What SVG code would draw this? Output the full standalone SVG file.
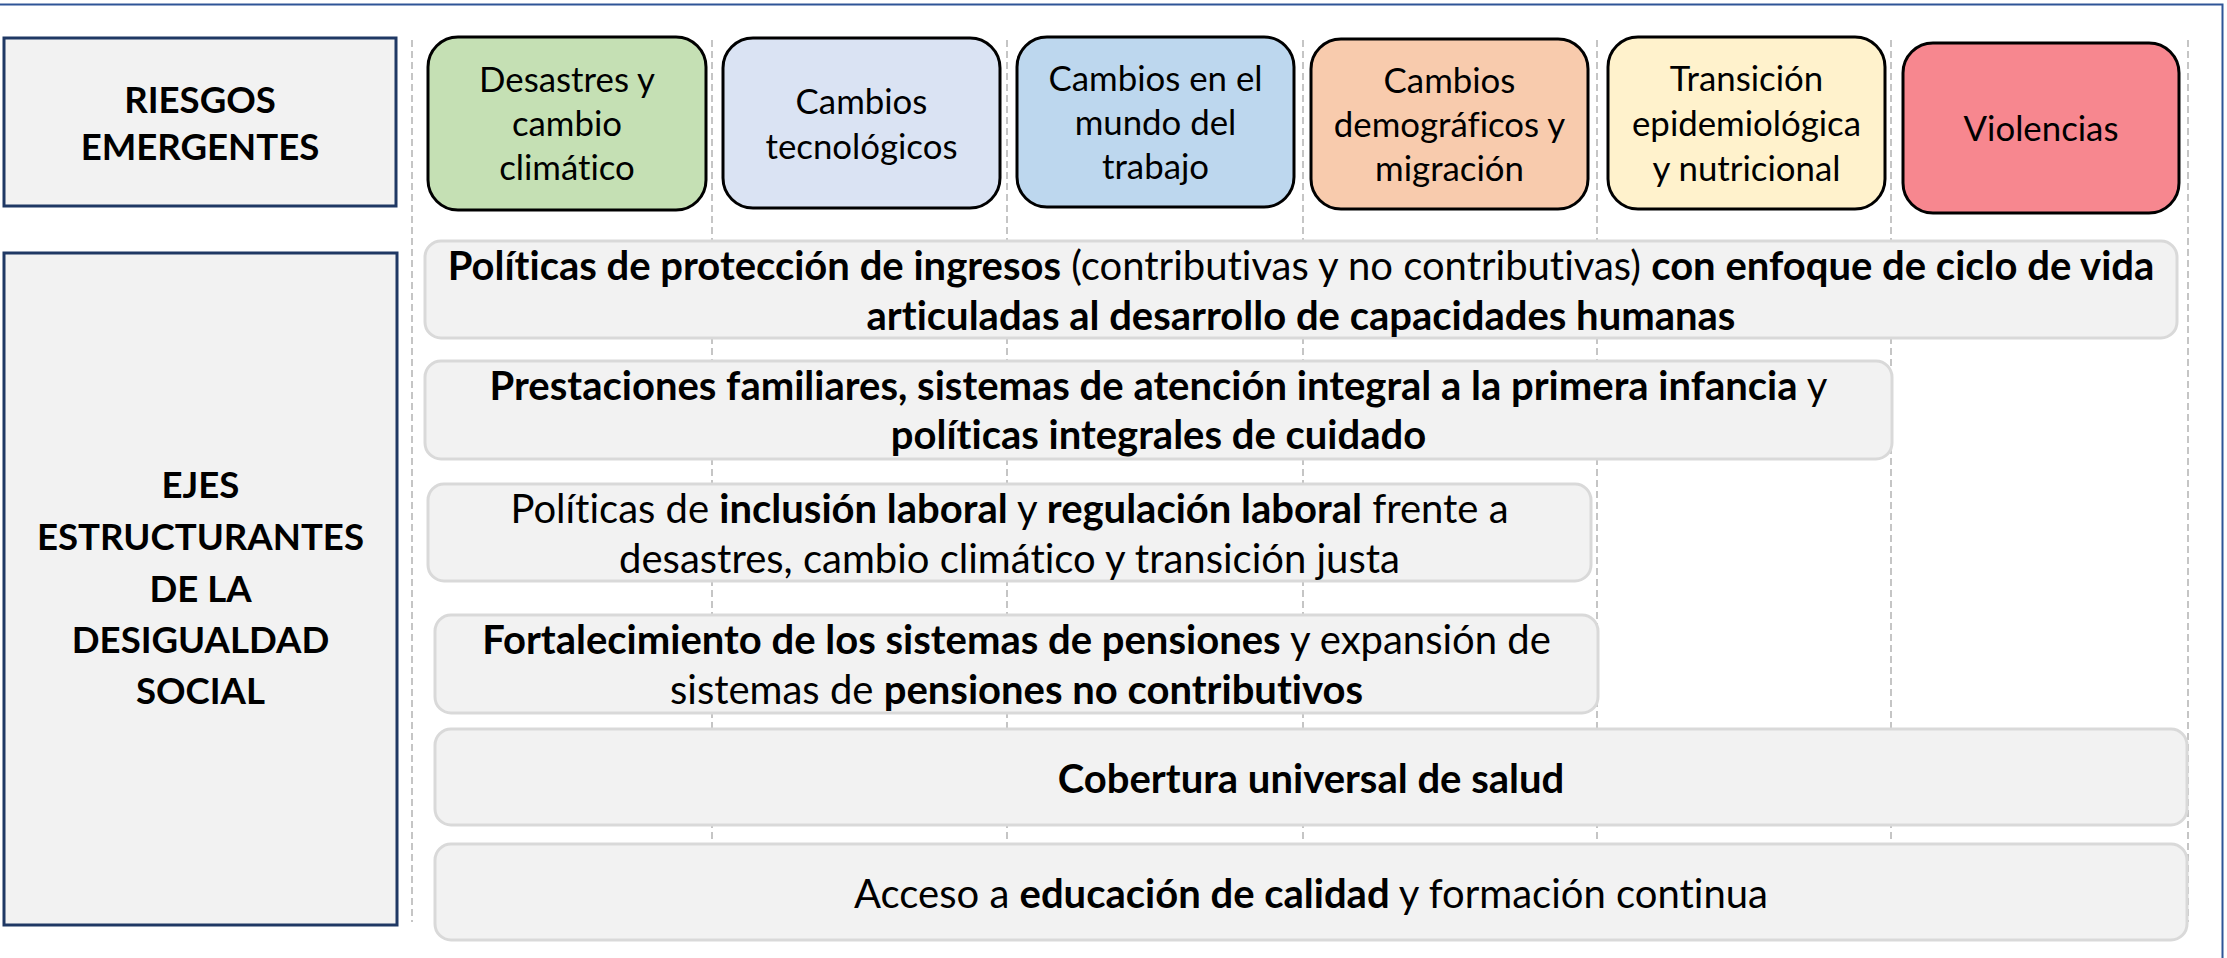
<svg xmlns="http://www.w3.org/2000/svg" width="2227" height="958" viewBox="0 0 2227 958">
<style>
.t{font-family:Lato,"Open Sans","Liberation Sans",sans-serif;fill:#000;text-anchor:middle;font-variant-ligatures:none;font-feature-settings:"liga" 0,"clig" 0,"dlig" 0}
.b{font-weight:bold}
.rk{font-size:34.8px}
.br{font-size:40px}
.hd{font-size:36.6px;font-weight:bold}
.risk{stroke:#000;stroke-width:3}
.bar{fill:#f2f2f2;stroke:#d9d9d9;stroke-width:3}
.hdr{fill:#f2f2f2;stroke:#1f3864;stroke-width:3}
.grid{stroke:#b3b3b3;stroke-width:1.5;stroke-dasharray:7 4;fill:none}
</style>
<rect width="2227" height="958" fill="#fff"/>
<path d="M0 4.5 H2222.5 V958" fill="none" stroke="#2f5597" stroke-width="2"/>
<g id="connectors">
<line class="grid" x1="412" y1="40" x2="412" y2="922"/>
<line class="grid" x1="712" y1="40" x2="712" y2="922"/>
<line class="grid" x1="1007" y1="40" x2="1007" y2="922"/>
<line class="grid" x1="1303" y1="40" x2="1303" y2="922"/>
<line class="grid" x1="1597" y1="40" x2="1597" y2="922"/>
<line class="grid" x1="1891" y1="40" x2="1891" y2="922"/>
<line class="grid" x1="2188" y1="40" x2="2188" y2="922"/>
</g>
<g id="riesgos-emergentes">
<rect class="hdr" x="4" y="38" width="392" height="168"/>
<text class="t hd" x="200" y="113">RIESGOS</text>
<text class="t hd" x="200" y="160">EMERGENTES</text>
</g>
<g id="ejes-estructurantes">
<rect class="hdr" x="4" y="253" width="393" height="672"/>
<text class="t hd" x="200.5" y="498">EJES</text>
<text class="t hd" x="200.5" y="550">ESTRUCTURANTES</text>
<text class="t hd" x="200.5" y="602">DE LA</text>
<text class="t hd" x="200.5" y="653">DESIGUALDAD</text>
<text class="t hd" x="200.5" y="704">SOCIAL</text>
</g>
<g id="risk-desastres">
<rect class="risk" x="428" y="37" width="278" height="173" rx="30" fill="#c5e0b4"/>
<text class="t rk" x="567" y="92">Desastres y</text>
<text class="t rk" x="567" y="136">cambio</text>
<text class="t rk" x="567" y="180">climático</text>
</g>
<g id="risk-tecnologicos">
<rect class="risk" x="723" y="38" width="277" height="170" rx="30" fill="#dae3f3"/>
<text class="t rk" x="861.5" y="114">Cambios</text>
<text class="t rk" x="861.5" y="159">tecnológicos</text>
</g>
<g id="risk-trabajo">
<rect class="risk" x="1017" y="37" width="277" height="170" rx="30" fill="#bdd7ee"/>
<text class="t rk" x="1155.5" y="91">Cambios en el</text>
<text class="t rk" x="1155.5" y="135">mundo del</text>
<text class="t rk" x="1155.5" y="179">trabajo</text>
</g>
<g id="risk-demograficos">
<rect class="risk" x="1311" y="39" width="277" height="170" rx="30" fill="#f8cbad"/>
<text class="t rk" x="1449.5" y="93">Cambios</text>
<text class="t rk" x="1449.5" y="137">demográficos y</text>
<text class="t rk" x="1449.5" y="181">migración</text>
</g>
<g id="risk-epidemiologica">
<rect class="risk" x="1608" y="37" width="277" height="172" rx="30" fill="#fff2cc"/>
<text class="t rk" x="1746.5" y="91">Transición</text>
<text class="t rk" x="1746.5" y="136">epidemiológica</text>
<text class="t rk" x="1746.5" y="181">y nutricional</text>
</g>
<g id="risk-violencias">
<rect class="risk" x="1903" y="43" width="276" height="170" rx="30" fill="#f7878f"/>
<text class="t rk" x="2041" y="141">Violencias</text>
</g>
<g id="eje-ingresos">
<rect class="bar" x="425" y="241" width="1752" height="97" rx="16"/>
<text class="t br" x="1301" y="280"><tspan class="b">Políticas de protección de ingresos</tspan> (contributivas y no contributivas) <tspan class="b">con enfoque de ciclo de vida</tspan></text>
<text class="t br b" x="1301" y="330">articuladas al desarrollo de capacidades humanas</text>
</g>
<g id="eje-cuidado">
<rect class="bar" x="425" y="361" width="1467" height="98" rx="16"/>
<text class="t br" x="1158.5" y="400"><tspan class="b">Prestaciones familiares, sistemas de atención integral a la primera infancia</tspan> y</text>
<text class="t br b" x="1158.5" y="449">políticas integrales de cuidado</text>
</g>
<g id="eje-laboral">
<rect class="bar" x="428" y="484" width="1163" height="97" rx="16"/>
<text class="t br" x="1009.5" y="523">Políticas de <tspan class="b">inclusión laboral</tspan> y <tspan class="b">regulación laboral</tspan> frente a</text>
<text class="t br" x="1009.5" y="573">desastres, cambio climático y transición justa</text>
</g>
<g id="eje-pensiones">
<rect class="bar" x="435" y="615" width="1163" height="98" rx="16"/>
<text class="t br" x="1016.5" y="654"><tspan class="b">Fortalecimiento de los sistemas de pensiones</tspan> y expansión de</text>
<text class="t br" x="1016.5" y="704">sistemas de <tspan class="b">pensiones no contributivos</tspan></text>
</g>
<g id="eje-salud">
<rect class="bar" x="435" y="729" width="1752" height="96" rx="16"/>
<text class="t br b" x="1311" y="793">Cobertura universal de salud</text>
</g>
<g id="eje-educacion">
<rect class="bar" x="435" y="844" width="1752" height="96" rx="16"/>
<text class="t br" x="1311" y="908">Acceso a <tspan class="b">educación de calidad</tspan> y formación continua</text>
</g>
</svg>
